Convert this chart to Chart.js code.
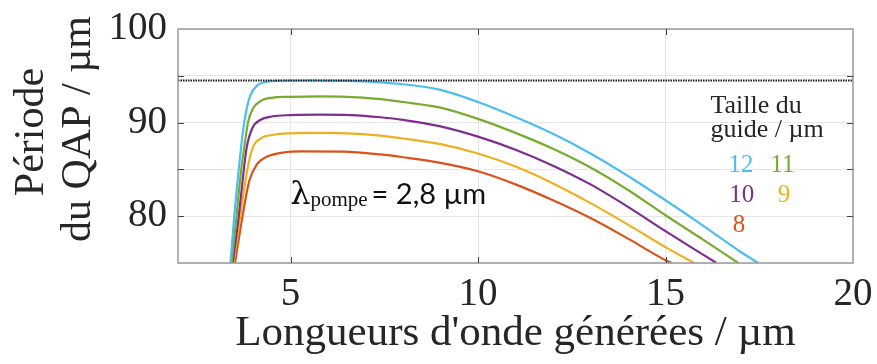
<!DOCTYPE html>
<html>
<head>
<meta charset="utf-8">
<script src="https://cdn.jsdelivr.net/npm/chart.js@4.4.1/dist/chart.umd.min.js"></script>
<style>
html,body{margin:0;padding:0;background:#ffffff;}
#wrap{width:877px;height:364px;position:relative;}
</style>
</head>
<body>
<div id="wrap"><canvas id="c" width="877" height="364"></canvas></div>
<script>
// ---- data ----
const xTickValues = [5, 10, 15, 20];
const yTickValues = [75, 80, 85, 90, 95, 100];
const yLabelValues = [80, 90, 100];

const guideSizes = ['12', '11', '10', '9', '8'];
const seriesColors = ['#4DBEEE', '#77AC30', '#7E2F8E', '#EDB120', '#D95319'];

// generated wavelength (µm) and QPM period (µm) per guide size
const wl12  = [3.40, 3.50, 3.62, 3.70, 3.77, 3.86, 3.94, 4.12, 4.35, 4.6, 5.5, 6.5, 7.4, 8, 9, 10, 11, 12, 13, 14, 15, 16, 17, 17.47];
const qap12 = [75, 80, 85, 88, 90.1, 92, 93, 94, 94.35, 94.45, 94.5, 94.45, 94.3, 94.1, 93.5, 92.2, 90.6, 88.8, 86.7, 84.3, 81.7, 79.0, 76.2, 75];

const wl11  = [3.43, 3.56, 3.68, 3.79, 3.87, 4.0, 4.2, 4.5, 5.0, 5.8, 6.8, 7.4, 8, 9, 10, 11, 12, 13, 14, 15, 16, 16.94];
const qap11 = [75, 80, 84.8, 88, 90.1, 91.5, 92.3, 92.65, 92.75, 92.8, 92.7, 92.5, 92.2, 91.6, 90.4, 88.9, 87.2, 85.2, 82.8, 80.1, 77.5, 75];

const wl10  = [3.46, 3.62, 3.75, 3.83, 3.98, 4.2, 4.5, 5.0, 5.8, 6.6, 7.4, 8, 9, 10, 11, 12, 13, 14, 15, 16, 16.36];
const qap10 = [75, 80, 84.8, 87.3, 89.4, 90.3, 90.65, 90.8, 90.85, 90.8, 90.57, 90.3, 89.6, 88.5, 87.1, 85.4, 83.4, 81.0, 78.4, 75.9, 75];

const wl9   = [3.48, 3.66, 3.84, 3.99, 4.2, 4.55, 5.0, 5.8, 6.8, 7.4, 8, 9, 10, 11, 12, 13, 14, 15, 15.76];
const qap9  = [75, 80, 84.8, 87.3, 88.3, 88.7, 88.85, 88.9, 88.8, 88.6, 88.3, 87.7, 86.7, 85.3, 83.5, 81.4, 79.1, 76.7, 75];

const wl8   = [3.52, 3.72, 3.9, 4.1, 4.4, 4.8, 5.3, 6.4, 7.4, 8, 9, 10, 11, 12, 13, 14, 15, 15.16];
const qap8  = [75, 80, 83.76, 85.5, 86.4, 86.8, 86.92, 86.9, 86.6, 86.3, 85.7, 84.8, 83.4, 81.7, 79.8, 77.6, 75.3, 75];

const refX = [2, 20];
const refY = [94.5, 94.5];

const xTitle = "Longueurs d'onde générées / µm";
const yTitleLines = ['Période', 'du QAP / µm'];
const legendTitleLines = ['Taille du', 'guide / µm'];
const pumpLabel = ['λ', 'pompe', '= 2,8 µm'];

// ---- build datasets ----
const wlSets = [wl12, wl11, wl10, wl9, wl8];
const qapSets = [qap12, qap11, qap10, qap9, qap8];
const toPts = (xs, ys) => xs.map((x, i) => ({x: x, y: ys[i]}));

const datasets = [{
  label: 'ref',
  data: toPts(refX, refY),
  borderColor: '#1a1a1a',
  borderWidth: 2,
  borderDash: [1.5, 1],
  pointRadius: 0,
  fill: false
}];
wlSets.forEach((xs, i) => {
  datasets.push({
    label: guideSizes[i],
    data: toPts(xs, qapSets[i]),
    borderColor: seriesColors[i],
    borderWidth: 2.2,
    pointRadius: 0,
    cubicInterpolationMode: 'monotone',
    fill: false
  });
});

const SERIF = '"Liberation Serif", "Times New Roman", serif';
const TXT = '#262626';

const framePlugin = {
  id: 'frame',
  afterDatasetsDraw(chart) {
    const {ctx, chartArea: a, scales} = chart;
    ctx.save();
    ctx.strokeStyle = '#9a9a9a';
    ctx.lineWidth = 1.5;
    ctx.strokeRect(a.left, a.top, a.right - a.left, a.bottom - a.top);
    ctx.strokeStyle = '#444444';
    ctx.lineWidth = 1;
    const tl = 6;
    [80, 85, 90, 95].forEach(v => {
      const y = Math.round(scales.y.getPixelForValue(v)) + 0.5;
      ctx.beginPath();
      ctx.moveTo(a.left, y); ctx.lineTo(a.left + tl, y);
      ctx.moveTo(a.right, y); ctx.lineTo(a.right - tl, y);
      ctx.stroke();
    });
    [5, 10, 15].forEach(v => {
      const x = Math.round(scales.x.getPixelForValue(v)) + 0.5;
      ctx.beginPath();
      ctx.moveTo(x, a.bottom); ctx.lineTo(x, a.bottom - tl);
      ctx.moveTo(x, a.top); ctx.lineTo(x, a.top + tl);
      ctx.stroke();
    });
    ctx.restore();
  }
};

const textPlugin = {
  id: 'texts',
  afterDraw(chart) {
    const {ctx, scales} = chart;
    const X = v => scales.x.getPixelForValue(v);
    const Y = v => scales.y.getPixelForValue(v);
    ctx.save();
    // y axis title (two rotated lines)
    ctx.fillStyle = TXT;
    ctx.font = '42px ' + SERIF;
    ctx.textAlign = 'center';
    ctx.textBaseline = 'alphabetic';
    const yt = [[43, 132], [90, 129]];
    yTitleLines.forEach((t, i) => {
      ctx.save();
      ctx.translate(yt[i][0], yt[i][1]);
      ctx.rotate(-Math.PI / 2);
      ctx.fillText(t, 0, 0);
      ctx.restore();
    });
    // pump wavelength label
    ctx.fillStyle = '#111111';
    ctx.textAlign = 'left';
    let px = X(4.99);
    const pb = Y(81.28);
    ctx.font = '32px "DejaVu Serif", serif';
    ctx.fillText(pumpLabel[0], px, pb);
    px += ctx.measureText(pumpLabel[0]).width;
    ctx.font = '21px ' + SERIF;
    ctx.fillText(pumpLabel[1], px, pb + 2);
    px += ctx.measureText(pumpLabel[1]).width + 4;
    ctx.font = '29px Lato, sans-serif';
    ctx.fillText(pumpLabel[2], px, pb);
    // legend title
    ctx.font = '26px ' + SERIF;
    ctx.fillStyle = TXT;
    ctx.fillText(legendTitleLines[0], X(16.2), Y(91.06));
    ctx.fillText(legendTitleLines[1], X(16.2), Y(88.5));
    // legend numbers
    const pos = [[16.68, 84.68], [17.8, 84.68], [16.7, 81.5], [17.99, 81.5], [16.79, 78.3]];
    ctx.font = '25px ' + SERIF;
    guideSizes.forEach((g, i) => {
      ctx.fillStyle = seriesColors[i];
      ctx.fillText(g, X(pos[i][0]), Y(pos[i][1]));
    });
    ctx.restore();
  }
};

new Chart(document.getElementById('c'), {
  type: 'line',
  data: {datasets: datasets},
  options: {
    responsive: false,
    animation: false,
    devicePixelRatio: 1,
    layout: {padding: {top: 29, right: 24, left: 0, bottom: 0}},
    plugins: {legend: {display: false}, tooltip: {enabled: false}},
    scales: {
      x: {
        type: 'linear',
        min: 2, max: 20,
        afterBuildTicks: s => { s.ticks = xTickValues.map(v => ({value: v})); },
        afterFit: s => { s.height = 101; s.paddingLeft = 0; s.paddingRight = 0; },
        grid: {color: '#e6e6e6', lineWidth: 1, drawTicks: false},
        border: {display: false},
        ticks: {
          color: TXT, padding: 8,
          font: {family: SERIF, size: 39},
          maxRotation: 0, autoSkip: false
        },
        title: {
          display: true, text: xTitle, color: TXT,
          font: {family: SERIF, size: 43},
          padding: {top: 0, bottom: 4}
        }
      },
      y: {
        type: 'linear',
        min: 75, max: 100,
        afterBuildTicks: s => { s.ticks = yTickValues.map(v => ({value: v})); },
        afterFit: s => { s.width = 178; s.paddingTop = 0; s.paddingBottom = 0; },
        grid: {color: '#e6e6e6', lineWidth: 1, drawTicks: false},
        border: {display: false},
        ticks: {
          color: TXT, padding: 11,
          font: {family: SERIF, size: 39},
          autoSkip: false,
          callback: v => (yLabelValues.includes(v) ? String(v) : '')
        }
      }
    }
  },
  plugins: [framePlugin, textPlugin]
});
</script>
</body>
</html>
